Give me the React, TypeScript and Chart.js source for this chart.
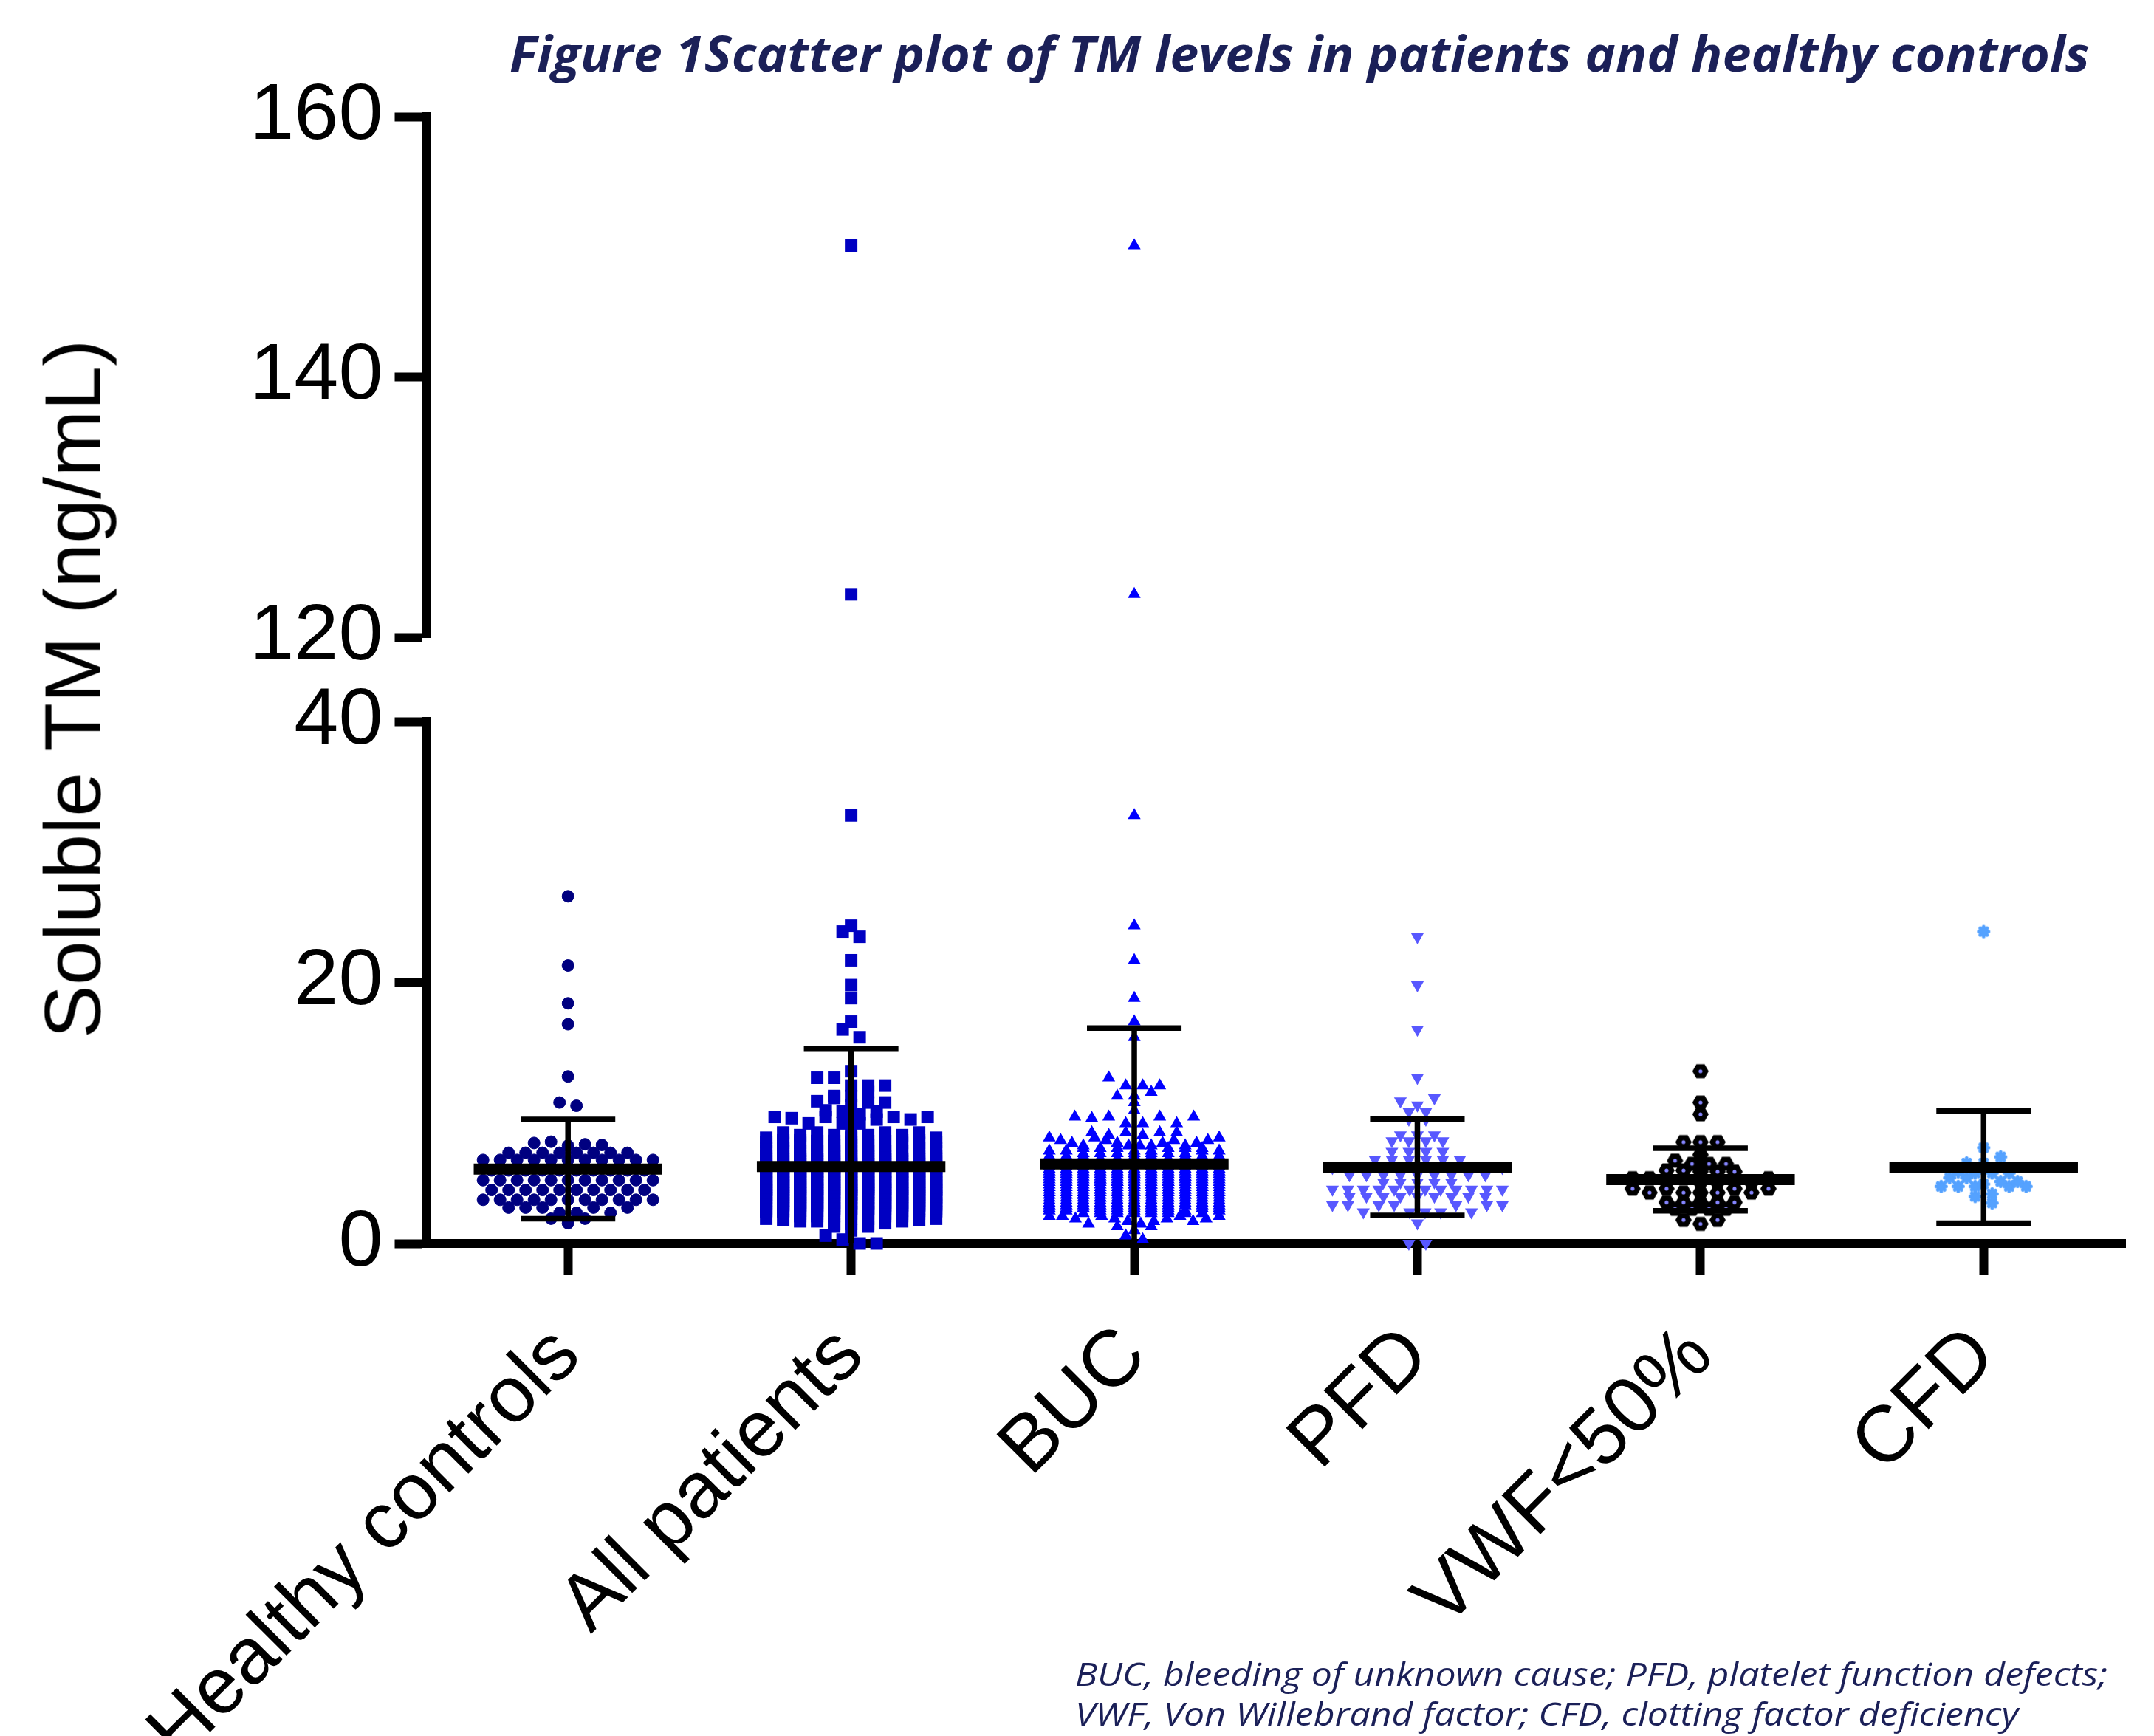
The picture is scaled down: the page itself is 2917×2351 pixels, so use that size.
import React, { useEffect, useLayoutEffect, useRef } from 'react';
import { Chart, registerables } from 'chart.js';

Chart.register(...registerables);

// ---------------- data ----------------
const CATEGORIES = ['Healthy controls', 'All patients', 'BUC', 'PFD', 'VWF<50%', 'CFD'];
const Y_LOWER_TICKS = [0, 20, 40];
const Y_UPPER_TICKS = [120, 140, 160];

// [value, count] pairs, ng/mL
const HEALTHY: [number, number][] = [
  [1.55, 1], [1.9, 2], [2.35, 3], [2.75, 5], [3.35, 11], [4.1, 10], [4.85, 11], [5.6, 10],
  [6.4, 11], [6.95, 8], [7.5, 1], [7.55, 1], [7.6, 1], [7.7, 1], [7.8, 1], [10.55, 1], [10.8, 1],
  [12.8, 1], [16.8, 1], [18.4, 1], [21.3, 1], [26.6, 1],
];
const BUC: [number, number][] = [
  [0.3, 1], [0.6, 1], [1.0, 1], [1.3, 2],
  [1.5, 2], [1.7, 3], [1.9, 4], [2.1, 5], [2.3, 8], [2.5, 9], [2.7, 10], [2.9, 11], [3.1, 12],
  [3.3, 13], [3.5, 13], [3.7, 13], [3.9, 14], [4.1, 14], [4.3, 13], [4.5, 13], [4.7, 13],
  [4.9, 12], [5.1, 12], [5.3, 12], [5.5, 11], [5.7, 11], [5.9, 10], [6.1, 10], [6.3, 9],
  [6.5, 8], [6.7, 8], [6.9, 7], [7.1, 6], [7.3, 6], [7.5, 5], [7.7, 4], [7.9, 4], [8.1, 3],
  [8.3, 2], [8.5, 4], [9.2, 3], [9.6, 1], [9.7, 4], [10.2, 1], [10.8, 1], [11.3, 2], [11.6, 1],
  [12.1, 3], [12.7, 1], [15.8, 1], [17.0, 1], [18.8, 1], [21.7, 1], [24.35, 1], [32.8, 1],
  [123.3, 1], [150.1, 1],
];
const PFD: [number, number][] = [
  [0, 2], [1.55, 1], [2.4, 5], [2.95, 7], [3.6, 9], [4.15, 12], [4.7, 5], [5.25, 9], [5.8, 8],
  [6.45, 6], [7.05, 4], [7.85, 4], [8.3, 3], [9.5, 2], [10.1, 2], [10.6, 1], [10.9, 1],
  [11.15, 1], [12.7, 1], [16.4, 1], [19.8, 1], [23.5, 1],
];
const VWF: [number, number][] = [
  [1.5, 1], [1.8, 2], [2.65, 4], [3.15, 5], [3.9, 5], [4.2, 4], [4.7, 3], [5.0, 6], [5.5, 3],
  [5.6, 2], [6.1, 3], [6.35, 1], [6.8, 1], [7.77, 3], [9.9, 1], [10.8, 1], [13.2, 1],
];
const CFD: [number, number][] = [
  [3.1, 1], [3.6, 1], [3.8, 1], [4.37, 5], [4.55, 1], [4.75, 2], [5.03, 2], [5.4, 3], [5.5, 1],
  [6.17, 2], [6.64, 1], [7.34, 1], [23.9, 1],
];
// mean and SD drawn as bars
const MEANS = [5.7, 5.9, 6.1, 5.85, 4.9, 5.85];
const SDS = [3.8, 9.0, 10.4, 3.7, 2.4, 4.3];

// ---------------- layout / style ----------------
const W = 2917;
const H = 2351;
const PLOT_LEFT = 577.5;
const PLOT_RIGHT = 2878;
const LOW_TOP = 977;
const LOW_BOTTOM = 1684;
const UP_TOP = 158;
const UP_BOTTOM = 863;
const FONT = "'Liberation Sans', Arial, Helvetica, sans-serif";
const NAVY = '#1b2058';

const SWARM_ROW = 0.75; // value units per swarm bin
const SWARM_STEP = 0.06; // x units between columns
const SWARM_COLS = 11;
const SWARM_COMPRESS_MAX = 16;
const MEAN_HALF = 0.333;
const CAP_HALF = 0.167;

function expand(pairs: [number, number][]): number[] {
  const out: number[] = [];
  for (const [v, c] of pairs) for (let k = 0; k < c; k++) out.push(v);
  return out;
}

function centerOut(k: number, n: number): number {
  if (n % 2 === 1) {
    if (k === 0) return 0;
    const m = Math.ceil(k / 2);
    return k % 2 === 1 ? m : -m;
  }
  const m = Math.floor(k / 2) + 0.5;
  return k % 2 === 0 ? m : -m;
}

function swarm(values: number[]): { v: number; off: number }[] {
  const sorted = [...values].sort((a, b) => a - b);
  const bins = new Map<number, number[]>();
  for (const v of sorted) {
    const b = Math.floor(v / SWARM_ROW + 1e-9);
    if (!bins.has(b)) bins.set(b, []);
    bins.get(b)!.push(v);
  }
  const out: { v: number; off: number }[] = [];
  bins.forEach((vals) => {
    const n = vals.length;
    if (n > SWARM_COMPRESS_MAX) {
      vals.forEach((v, k) => out.push({ v, off: centerOut(k % SWARM_COLS, SWARM_COLS) * SWARM_STEP }));
      return;
    }
    const order = [...vals.filter((_, k) => k % 2 === 0), ...vals.filter((_, k) => k % 2 === 1)];
    const step = n <= SWARM_COLS ? SWARM_STEP : ((SWARM_COLS - 1) * SWARM_STEP) / (n - 1);
    order.forEach((v, k) => out.push({ v, off: centerOut(k, n) * step }));
  });
  return out;
}

function makeHexagon(): HTMLCanvasElement {
  const c = document.createElement('canvas');
  c.width = 24;
  c.height = 24;
  const g = c.getContext('2d')!;
  g.fillStyle = '#000';
  g.beginPath();
  for (let k = 0; k < 6; k++) {
    const a = (Math.PI / 3) * k;
    const px = 12 + 11 * Math.cos(a);
    const py = 12 + 11 * Math.sin(a);
    if (k === 0) g.moveTo(px, py);
    else g.lineTo(px, py);
  }
  g.closePath();
  g.fill();
  g.fillStyle = '#8585ff';
  g.beginPath();
  g.arc(12, 12, 2.6, 0, Math.PI * 2);
  g.fill();
  return c;
}

function makeAsterisk(): HTMLCanvasElement {
  const c = document.createElement('canvas');
  c.width = 20;
  c.height = 20;
  const g = c.getContext('2d')!;
  g.strokeStyle = '#55a2ff';
  g.lineWidth = 5;
  g.lineCap = 'round';
  for (let k = 0; k < 4; k++) {
    const a = (Math.PI / 4) * k;
    g.beginPath();
    g.moveTo(10 - 6.5 * Math.cos(a), 10 - 6.5 * Math.sin(a));
    g.lineTo(10 + 6.5 * Math.cos(a), 10 + 6.5 * Math.sin(a));
    g.stroke();
  }
  g.fillStyle = '#55a2ff';
  g.beginPath();
  g.arc(10, 10, 5, 0, Math.PI * 2);
  g.fill();
  return c;
}

function markerStyle(i: number, hex: HTMLCanvasElement, ast: HTMLCanvasElement): any {
  switch (i) {
    case 0:
      return { pointStyle: 'circle', pointRadius: 8, pointBorderWidth: 1, pointBackgroundColor: '#000080', pointBorderColor: '#000080' };
    case 1:
      return { pointStyle: 'rect', pointRadius: 12, pointBorderWidth: 0, pointBackgroundColor: '#0000c2', pointBorderColor: '#0000c2' };
    case 2:
      return { pointStyle: 'triangle', pointRadius: 10, pointBorderWidth: 0, pointBackgroundColor: '#0000ff', pointBorderColor: '#0000ff' };
    case 3:
      return { pointStyle: 'triangle', pointRotation: 180, pointRadius: 10, pointBorderWidth: 0, pointBackgroundColor: '#5858ff', pointBorderColor: '#5858ff' };
    case 4:
      return { pointStyle: hex, pointRadius: 11, pointBorderWidth: 0 };
    default:
      return { pointStyle: ast, pointRadius: 9, pointBorderWidth: 0 };
  }
}

const GROUP_VALUES = [
  expand(HEALTHY),
  [...expand(BUC), ...expand(PFD), ...expand(VWF), ...expand(CFD)],
  expand(BUC),
  expand(PFD),
  expand(VWF),
  expand(CFD),
];

function pointDatasets(filter: (v: number) => boolean, hex: HTMLCanvasElement, ast: HTMLCanvasElement) {
  return GROUP_VALUES.map((vals, i) => ({
    type: 'scatter',
    data: swarm(vals)
      .filter((p) => filter(p.v))
      .map((p) => ({ x: i + p.off, y: p.v })),
    showLine: false,
    order: 1,
    clip: false,
    ...markerStyle(i, hex, ast),
  }));
}

function barDatasets() {
  const out: any[] = [];
  const line = (pts: { x: number; y: number }[], w: number) => ({
    type: 'scatter',
    data: pts,
    showLine: true,
    borderColor: '#000',
    borderWidth: w,
    pointRadius: 0,
    order: 0,
    clip: false,
  });
  MEANS.forEach((m, i) => {
    const sd = SDS[i];
    const hi = m + sd;
    const lo = m - sd;
    out.push(line([{ x: i - MEAN_HALF, y: m }, { x: i + MEAN_HALF, y: m }], 15));
    out.push(line([{ x: i, y: Math.max(0, lo) }, { x: i, y: hi }], 7.5));
    out.push(line([{ x: i - CAP_HALF, y: hi }, { x: i + CAP_HALF, y: hi }], 7.5));
    if (lo > 0) out.push(line([{ x: i - CAP_HALF, y: lo }, { x: i + CAP_HALF, y: lo }], 7.5));
  });
  return out;
}

function yScale(min: number, max: number, ticks: number[]) {
  return {
    type: 'linear',
    min,
    max,
    afterBuildTicks: (s: any) => {
      s.ticks = ticks.map((v) => ({ value: v }));
    },
    afterFit: (s: any) => {
      s.width = PLOT_LEFT;
    },
    border: { display: true, width: 12, color: '#000' },
    grid: { display: true, drawOnChartArea: false, drawTicks: true, tickLength: 43, tickWidth: 12, tickColor: '#000', color: '#000' },
    ticks: { font: { family: FONT, size: 108 }, color: '#000', padding: 16 },
  };
}

function xScale(display: boolean) {
  return {
    type: 'linear',
    min: -0.5,
    max: 5.5,
    display,
    afterBuildTicks: (s: any) => {
      s.ticks = CATEGORIES.map((_, i) => ({ value: i }));
    },
    afterFit: (s: any) => {
      if (display) s.height = H - LOW_BOTTOM;
    },
    border: { display: true, width: 12, color: '#000' },
    grid: { display: true, drawOnChartArea: false, drawTicks: true, tickLength: 43, tickWidth: 12, tickColor: '#000', color: '#000' },
    ticks: {
      autoSkip: false,
      maxRotation: 45,
      minRotation: 45,
      padding: 46,
      font: { family: FONT, size: 108 },
      color: '#000',
      callback: (v: any) => CATEGORIES[Math.round(Number(v))] ?? '',
    },
  };
}

function FitText(props: { lines: string[]; left: number; top: number; lineHeight: number; width: number; style: React.CSSProperties }) {
  const ref = useRef<HTMLDivElement>(null);
  useLayoutEffect(() => {
    const el = ref.current;
    if (!el) return;
    const first = el.firstElementChild as HTMLElement;
    el.style.transform = 'none';
    const span = first.firstElementChild as HTMLElement;
    const w = span.getBoundingClientRect().width;
    if (w > 0) el.style.transform = `scaleX(${props.width / w})`;
  }, []);
  return (
    <div
      ref={ref}
      style={{
        position: 'absolute',
        left: props.left,
        top: props.top,
        lineHeight: props.lineHeight + 'px',
        whiteSpace: 'nowrap',
        transformOrigin: '0 0',
        ...props.style,
      }}
    >
      {props.lines.map((l, k) => (
        <div key={k}>
          <span>{l}</span>
        </div>
      ))}
    </div>
  );
}

export default function App() {
  const upRef = useRef<HTMLCanvasElement>(null);
  const lowRef = useRef<HTMLCanvasElement>(null);

  useEffect(() => {
    const hex = makeHexagon();
    const ast = makeAsterisk();
    const common = {
      animation: false,
      responsive: false,
      maintainAspectRatio: false,
      events: [],
      plugins: { legend: { display: false }, tooltip: { enabled: false }, title: { display: false } },
    };
    const upper = new Chart(upRef.current!, {
      type: 'scatter',
      data: { datasets: pointDatasets((v) => v >= 120, hex, ast) as any },
      options: {
        ...common,
        layout: { padding: { top: UP_TOP, left: 0, right: W - PLOT_RIGHT, bottom: H - UP_BOTTOM } },
        scales: { x: xScale(false), y: yScale(120, 160, Y_UPPER_TICKS) },
      } as any,
    });
    const lower = new Chart(lowRef.current!, {
      type: 'scatter',
      data: { datasets: [...barDatasets(), ...pointDatasets((v) => v <= 40, hex, ast)] as any },
      options: {
        ...common,
        layout: { padding: { top: LOW_TOP, left: 0, right: W - PLOT_RIGHT, bottom: 0 } },
        scales: { x: xScale(true), y: yScale(0, 40, Y_LOWER_TICKS) },
      } as any,
    });
    return () => {
      upper.destroy();
      lower.destroy();
    };
  }, []);

  const canvasStyle: React.CSSProperties = { position: 'absolute', left: 0, top: 0, width: W, height: H };

  return (
    <div style={{ position: 'absolute', left: 0, top: 0, width: W, height: H, overflow: 'hidden', background: '#fff' }}>
      <canvas ref={upRef} width={W} height={H} style={canvasStyle} />
      <canvas ref={lowRef} width={W} height={H} style={canvasStyle} />
      <FitText
        lines={['Figure 1Scatter plot of TM levels in patients and healthy controls']}
        left={690}
        top={38}
        lineHeight={66}
        width={2140}
        style={{ fontFamily: "'Open Sans', 'Noto Sans', sans-serif", fontSize: 66, fontWeight: 700, fontStyle: 'italic', color: NAVY }}
      />
      <FitText
        lines={['BUC, bleeding of unknown cause; PFD, platelet function defects;', 'VWF, Von Willebrand factor; CFD, clotting factor deficiency']}
        left={1456}
        top={2239}
        lineHeight={54}
        width={1398}
        style={{ fontFamily: "'Open Sans', 'Noto Sans', sans-serif", fontSize: 44, fontWeight: 500, fontStyle: 'italic', color: NAVY }}
      />
      <div
        style={{
          position: 'absolute',
          left: 136,
          top: 933,
          transformOrigin: '0 0',
          transform: 'rotate(-90deg) translate(-50%, -91.4px)',
          fontFamily: FONT,
          fontSize: 108,
          lineHeight: '108px',
          whiteSpace: 'nowrap',
          color: '#000',
        }}
      >
        Soluble TM (ng/mL)
      </div>
    </div>
  );
}
